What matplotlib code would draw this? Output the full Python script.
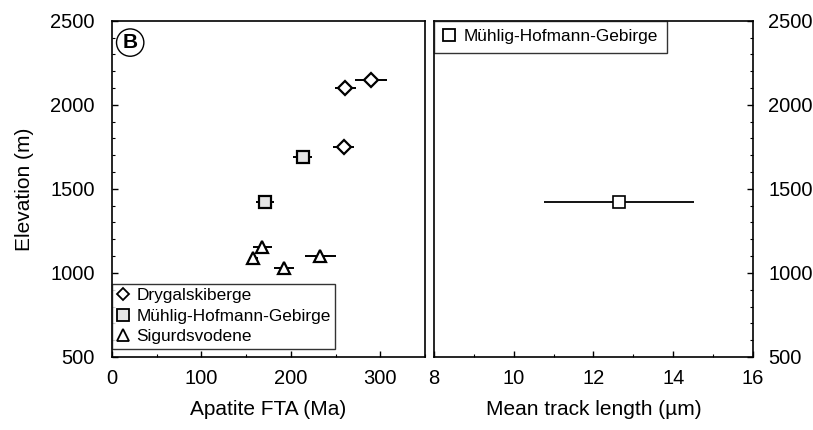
import matplotlib
matplotlib.use("Agg")
import matplotlib.pyplot as plt
from matplotlib.lines import Line2D
from matplotlib.ticker import MultipleLocator

plt.rcParams['font.family'] = ['Liberation Sans', 'DejaVu Sans']

# Apatite fission-track ages (Ma) with 1-sigma errors vs. elevation (m)
dry_age = [261, 290, 259]
dry_err = [11.5, 18, 11.5]
dry_elev = [2100, 2145, 1750]

mhg_age = [213, 171]
mhg_err = [11, 10]
mhg_elev = [1690, 1420]

sig_age = [168, 158, 192, 233]
sig_err = [10.5, 5, 11, 17.5]
sig_elev = [1152, 1089, 1030, 1103]

# Mean track length (um) vs. elevation
mtl_len = [12.65]
mtl_err = [1.88]
mtl_elev = [1420]

age_ticks = [0, 100, 200, 300]
len_ticks = [8, 10, 12, 14, 16]
elev_ticks = [500, 1000, 1500, 2000, 2500]

fig = plt.figure(figsize=(8.13, 4.30), dpi=100)
ax1 = fig.add_axes([0.1378, 0.1698, 0.385, 0.782])
ax2 = fig.add_axes([0.5338, 0.1698, 0.3924, 0.782])

ebkw = dict(ls='none', ecolor='black', elinewidth=1.4, capsize=0,
            markeredgecolor='black', markeredgewidth=1.6)

ax1.errorbar(dry_age, dry_elev, xerr=dry_err, fmt='D', ms=7,
             markerfacecolor='white', **ebkw)
ax1.errorbar(mhg_age, mhg_elev, xerr=mhg_err, fmt='s', ms=9,
             markerfacecolor='#e4e4e4', **ebkw)
ax1.errorbar(sig_age, sig_elev, xerr=sig_err, fmt='^', ms=9,
             markerfacecolor='white', **ebkw)

ax2.errorbar(mtl_len, mtl_elev, xerr=mtl_err, fmt='s', ms=8.5,
             markerfacecolor='white', ls='none', ecolor='black',
             elinewidth=1.3, capsize=0, markeredgecolor='black',
             markeredgewidth=1.2)

for ax in (ax1, ax2):
    ax.set_ylim(500, 2500)
    ax.set_yticks(elev_ticks)
    ax.yaxis.set_minor_locator(MultipleLocator(100))
    ax.tick_params(which='both', direction='in', labelsize=14.5, top=False)
    ax.tick_params(which='major', length=4, width=1)
    ax.tick_params(which='minor', length=2.5, width=0.8)
    ax.tick_params(axis='x', pad=9)
    for s in ax.spines.values():
        s.set_linewidth(1.2)

ax1.set_xlim(0, 350)
ax1.set_xticks(age_ticks)
ax1.xaxis.set_minor_locator(MultipleLocator(50))
ax1.tick_params(axis='y', left=True, right=False, pad=12.5)
ax1.set_xlabel('Apatite FTA (Ma)', fontsize=15, labelpad=8)
ax1.set_ylabel('Elevation (m)', fontsize=15, labelpad=12)

ax2.set_xlim(8, 16)
ax2.set_xticks(len_ticks)
ax2.xaxis.set_minor_locator(MultipleLocator(1))
ax2.yaxis.tick_right()
ax2.tick_params(axis='y', left=False, right=True, labelleft=False,
                labelright=True, pad=11)
ax2.set_xlabel('Mean track length (µm)', fontsize=15, labelpad=8)


def key(marker, ms, face):
    """Marker-only legend handle (no error bar)."""
    return Line2D([], [], ls='none', marker=marker, ms=ms,
                  markerfacecolor=face, markeredgecolor='black',
                  markeredgewidth=1.3)


leg1 = ax1.legend(
    [key('D', 6, 'white'), key('s', 8, '#e4e4e4'), key('^', 8, 'white')],
    ['Drygalskiberge', 'Mühlig-Hofmann-Gebirge', 'Sigurdsvodene'],
    loc='lower left', bbox_to_anchor=(0.0, 0.025), fontsize=12.4,
    frameon=True, fancybox=False, edgecolor='black',
    handlelength=0.8, handletextpad=0.35, borderpad=0.25,
    labelspacing=0.32, borderaxespad=0.0)
leg1.get_frame().set_linewidth(1.0)

leg2 = ax2.legend([key('s', 8, 'white')], ['Mühlig-Hofmann-Gebirge'],
                  loc='upper left', fontsize=12.4, frameon=True, fancybox=False,
                  edgecolor='black', handlelength=0.8, handletextpad=0.45,
                  borderpad=0.5, borderaxespad=0.0)
leg2.get_frame().set_linewidth(1.0)

ax1.text(0.058, 0.935, 'B', transform=ax1.transAxes, fontsize=15,
         fontweight='bold', ha='center', va='center',
         bbox=dict(boxstyle='circle,pad=0.2', facecolor='white',
                   edgecolor='black', linewidth=1.0))

fig.savefig('out.png', dpi=100)
